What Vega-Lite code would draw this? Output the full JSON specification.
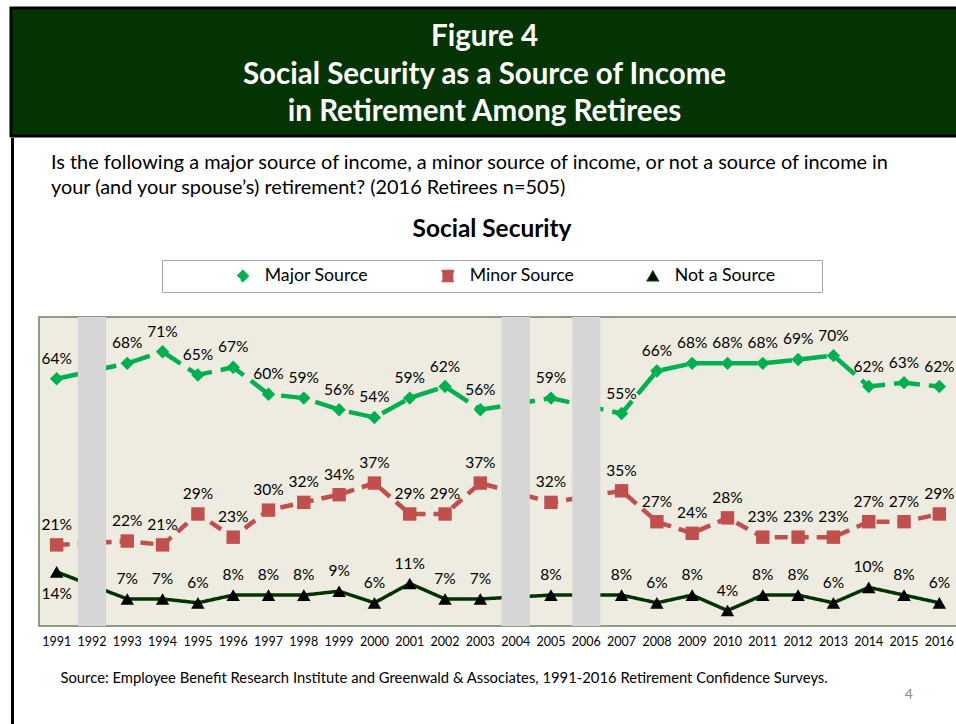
{
  "$schema": "https://vega.github.io/schema/vega-lite/v6.json",
  "padding": {"left": 9, "top": 6, "right": 0, "bottom": 0},
  "background": "white",
  "spacing": 0,
  "config": {
    "view": {"stroke": null},
    "font": "Lato",
    "title": {"font": "Lato", "color": "#000000"},
    "axis": {"labelFont": "Lato", "titleFont": "Lato"},
    "legend": {"labelFont": "Lato", "titleFont": "Lato"}
  },
  "datasets": {
    "survey": [
      {"year": "1991", "series": "Major Source", "value": 0.64},
      {"year": "1993", "series": "Major Source", "value": 0.68},
      {"year": "1994", "series": "Major Source", "value": 0.71},
      {"year": "1995", "series": "Major Source", "value": 0.65},
      {"year": "1996", "series": "Major Source", "value": 0.67},
      {"year": "1997", "series": "Major Source", "value": 0.60},
      {"year": "1998", "series": "Major Source", "value": 0.59},
      {"year": "1999", "series": "Major Source", "value": 0.56},
      {"year": "2000", "series": "Major Source", "value": 0.54},
      {"year": "2001", "series": "Major Source", "value": 0.59},
      {"year": "2002", "series": "Major Source", "value": 0.62},
      {"year": "2003", "series": "Major Source", "value": 0.56},
      {"year": "2005", "series": "Major Source", "value": 0.59},
      {"year": "2007", "series": "Major Source", "value": 0.55},
      {"year": "2008", "series": "Major Source", "value": 0.66},
      {"year": "2009", "series": "Major Source", "value": 0.68},
      {"year": "2010", "series": "Major Source", "value": 0.68},
      {"year": "2011", "series": "Major Source", "value": 0.68},
      {"year": "2012", "series": "Major Source", "value": 0.69},
      {"year": "2013", "series": "Major Source", "value": 0.70},
      {"year": "2014", "series": "Major Source", "value": 0.62},
      {"year": "2015", "series": "Major Source", "value": 0.63},
      {"year": "2016", "series": "Major Source", "value": 0.62},
      {"year": "1991", "series": "Minor Source", "value": 0.21},
      {"year": "1993", "series": "Minor Source", "value": 0.22},
      {"year": "1994", "series": "Minor Source", "value": 0.21},
      {"year": "1995", "series": "Minor Source", "value": 0.29},
      {"year": "1996", "series": "Minor Source", "value": 0.23},
      {"year": "1997", "series": "Minor Source", "value": 0.30},
      {"year": "1998", "series": "Minor Source", "value": 0.32},
      {"year": "1999", "series": "Minor Source", "value": 0.34},
      {"year": "2000", "series": "Minor Source", "value": 0.37},
      {"year": "2001", "series": "Minor Source", "value": 0.29},
      {"year": "2002", "series": "Minor Source", "value": 0.29},
      {"year": "2003", "series": "Minor Source", "value": 0.37},
      {"year": "2005", "series": "Minor Source", "value": 0.32},
      {"year": "2007", "series": "Minor Source", "value": 0.35},
      {"year": "2008", "series": "Minor Source", "value": 0.27},
      {"year": "2009", "series": "Minor Source", "value": 0.24},
      {"year": "2010", "series": "Minor Source", "value": 0.28},
      {"year": "2011", "series": "Minor Source", "value": 0.23},
      {"year": "2012", "series": "Minor Source", "value": 0.23},
      {"year": "2013", "series": "Minor Source", "value": 0.23},
      {"year": "2014", "series": "Minor Source", "value": 0.27},
      {"year": "2015", "series": "Minor Source", "value": 0.27},
      {"year": "2016", "series": "Minor Source", "value": 0.29},
      {"year": "1991", "series": "Not a Source", "value": 0.14},
      {"year": "1993", "series": "Not a Source", "value": 0.07},
      {"year": "1994", "series": "Not a Source", "value": 0.07},
      {"year": "1995", "series": "Not a Source", "value": 0.06},
      {"year": "1996", "series": "Not a Source", "value": 0.08},
      {"year": "1997", "series": "Not a Source", "value": 0.08},
      {"year": "1998", "series": "Not a Source", "value": 0.08},
      {"year": "1999", "series": "Not a Source", "value": 0.09},
      {"year": "2000", "series": "Not a Source", "value": 0.06},
      {"year": "2001", "series": "Not a Source", "value": 0.11},
      {"year": "2002", "series": "Not a Source", "value": 0.07},
      {"year": "2003", "series": "Not a Source", "value": 0.07},
      {"year": "2005", "series": "Not a Source", "value": 0.08},
      {"year": "2007", "series": "Not a Source", "value": 0.08},
      {"year": "2008", "series": "Not a Source", "value": 0.06},
      {"year": "2009", "series": "Not a Source", "value": 0.08},
      {"year": "2010", "series": "Not a Source", "value": 0.04},
      {"year": "2011", "series": "Not a Source", "value": 0.08},
      {"year": "2012", "series": "Not a Source", "value": 0.08},
      {"year": "2013", "series": "Not a Source", "value": 0.06},
      {"year": "2014", "series": "Not a Source", "value": 0.10},
      {"year": "2015", "series": "Not a Source", "value": 0.08},
      {"year": "2016", "series": "Not a Source", "value": 0.06}
    ],
    "gaps": [{"year": "1992"}, {"year": "2004"}, {"year": "2006"}]
  },
  "vconcat": [
    {
      "width": 947,
      "height": 128,
      "view": {"fill": "#043304", "stroke": "#000000", "strokeWidth": 3},
      "data": {"values": [{"t": "Figure 4\nSocial Security as a Source of Income\nin Retirement Among Retirees"}]},
      "mark": {"type": "text", "lineBreak": "\n", "lineHeight": 37.5, "fontSize": 29.5, "fontWeight": "bold", "color": "#ffffff", "font": "Lato", "baseline": "middle", "align": "center", "dy": -35},
      "encoding": {"text": {"field": "t"}}
    },
    {
      "spacing": 24,
      "hconcat": [
        {
          "width": 3,
          "height": 590,
          "view": {"fill": "#000000", "stroke": null},
          "data": {"values": [{"t": ""}]},
          "mark": "text",
          "encoding": {"text": {"field": "t"}}
        },
        {
          "spacing": 17,
          "title": {"text": "4", "orient": "bottom", "anchor": "end", "dx": -45, "offset": 2, "fontSize": 14, "fontWeight": "normal", "color": "#8c8c8c"},
          "vconcat": [
            {
              "width": 918,
              "height": 12,
              "title": {
                "text": ["Is the following a major source of income, a minor source of income, or not a source of income in", "your (and your spouse’s) retirement?  (2016 Retirees n=505)"],
                "orient": "bottom", "anchor": "start", "frame": "group", "dx": 12, "offset": 3,
                "fontSize": 19.9, "fontWeight": "normal", "lineHeight": 25, "color": "#000000"
              },
              "data": {"values": [{"t": ""}]},
              "mark": "text",
              "encoding": {"text": {"field": "t"}}
            },
            {
              "width": 918,
              "height": 309,
              "view": {"fill": "#EEECE1", "stroke": "#6E7D64", "strokeWidth": 1.5},
              "title": {"text": "Social Security", "fontSize": 24.4, "fontWeight": "bold", "anchor": "middle", "frame": "group", "dx": -6, "offset": 75, "color": "#000000"},
              "encoding": {
                "x": {
                  "field": "year", "type": "ordinal",
                  "scale": {"type": "band", "domain": ["1991","1992","1993","1994","1995","1996","1997","1998","1999","2000","2001","2002","2003","2004","2005","2006","2007","2008","2009","2010","2011","2012","2013","2014","2015","2016"], "paddingInner": 0.2, "paddingOuter": 0.1},
                  "axis": {
                    "labelAngle": 0, "labelFontSize": 12.5, "labelColor": "#000000", "ticks": false, "domain": false, "grid": false, "labelPadding": 9,
                    "title": "Source:  Employee Benefit Research Institute and Greenwald & Associates, 1991-2016 Retirement Confidence Surveys.",
                    "titleFontSize": 14.8, "titleFontWeight": "normal", "titleColor": "#000000", "titleAlign": "left", "titleAnchor": "start", "titleX": 21, "titleY": 52, "titleBaseline": "middle"
                  }
                }
              },
              "layer": [
                {
                  "data": {"name": "survey"},
                  "mark": {"type": "line", "strokeCap": "butt"},
                  "encoding": {
                    "y": {"field": "value", "type": "quantitative", "scale": {"domain": [0, 0.8], "nice": false}, "axis": null},
                    "color": {
                      "field": "series", "type": "nominal",
                      "scale": {"domain": ["Major Source", "Minor Source", "Not a Source"], "range": ["#00B050", "#C0504D", "#003300"]},
                      "legend": {
                        "orient": "none", "legendX": 151, "legendY": 252, "direction": "horizontal", "columns": 3, "gridAlign": "all",
                        "title": " ", "titleOrient": "left", "titlePadding": 65, "titleFontSize": 11,
                        "padding": 7, "strokeColor": "#a6a6a6", "fillColor": "#ffffff",
                        "columnPadding": 30, "symbolSize": 120, "symbolOffset": 0, "labelOffset": 13,
                        "labelFontSize": 17.7, "labelColor": "#000000",
                        "labelExpr": "datum.label + '\u2800\u2800\u2800'"
                      }
                    },
                    "strokeDash": {
                      "field": "series", "type": "nominal",
                      "scale": {"domain": ["Major Source", "Minor Source", "Not a Source"], "range": [[26, 9], [13, 8], [1, 0]]},
                      "legend": null
                    },
                    "strokeWidth": {"condition": {"test": "datum.series === 'Not a Source'", "value": 3.5}, "value": 4.5}
                  }
                },
                {
                  "data": {"name": "survey"},
                  "mark": {"type": "point", "filled": true, "opacity": 1, "strokeWidth": 0, "size": 180},
                  "encoding": {
                    "y": {"field": "value", "type": "quantitative"},
                    "shape": {"field": "series", "type": "nominal", "scale": {"domain": ["Major Source", "Minor Source", "Not a Source"], "range": ["diamond", "square", "triangle-up"]}, "legend": null},
                    "fill": {"field": "series", "type": "nominal", "scale": {"domain": ["Major Source", "Minor Source", "Not a Source"], "range": ["#00B050", "#C0504D", "#000000"]}, "legend": null}
                  }
                },
                {
                  "data": {"name": "gaps"},
                  "mark": {"type": "rect", "color": "#D6D6D6"},
                  "encoding": {}
                },
                {
                  "data": {"name": "survey"},
                  "transform": [{"filter": "!(datum.series === 'Not a Source' && datum.year === '1991')"}],
                  "mark": {"type": "text", "dy": -20, "fontSize": 15.5, "color": "#000000", "baseline": "middle"},
                  "encoding": {
                    "y": {"field": "value", "type": "quantitative"},
                    "text": {"field": "value", "type": "quantitative", "format": ".0%"}
                  }
                },
                {
                  "data": {"name": "survey"},
                  "transform": [{"filter": "datum.series === 'Not a Source' && datum.year === '1991'"}],
                  "mark": {"type": "text", "dy": 22, "fontSize": 15.5, "color": "#000000", "baseline": "middle"},
                  "encoding": {
                    "y": {"field": "value", "type": "quantitative"},
                    "text": {"field": "value", "type": "quantitative", "format": ".0%"}
                  }
                }
              ]
            }
          ]
        }
      ]
    }
  ]
}
